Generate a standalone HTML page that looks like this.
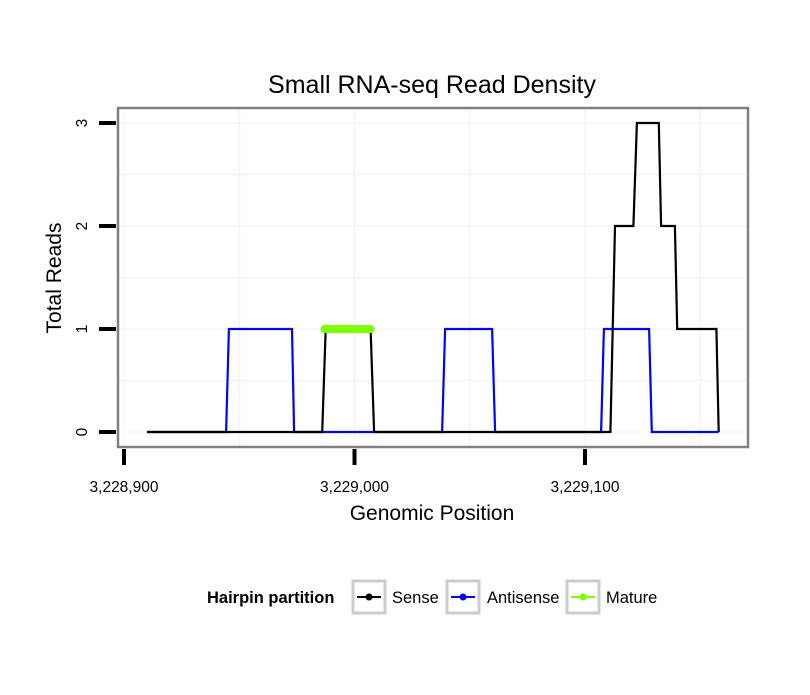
<!DOCTYPE html>
<html><head><meta charset="utf-8"><style>
body{margin:0;background:#fff;}
text{font-family:"Liberation Sans",sans-serif;}
</style></head><body>
<svg id="chart" width="810" height="690" viewBox="0 0 810 690" xmlns="http://www.w3.org/2000/svg">
<rect width="810" height="690" fill="#fff"/>
<text x="432" y="93" font-size="25" text-anchor="middle">Small RNA-seq Read Density</text>
<rect x="118" y="108" width="630" height="339" fill="#fff"/>
<g id="grid"></g>
<g id="series"></g>
<rect x="118" y="108" width="630" height="339" fill="none" stroke="#808080" stroke-width="2.5"/>
<g id="axes"></g>
<text x="432" y="520" font-size="21" text-anchor="middle">Genomic Position</text>
<text x="0" y="0" font-size="21" text-anchor="middle" transform="translate(61,278) rotate(-90)">Total Reads</text>
<g>
<text x="207" y="603" font-size="16.5" font-weight="bold">Hairpin partition</text>
<g>
<rect x="353" y="581" width="32" height="32" fill="#fff" stroke="#ccc" stroke-width="3"/>
<line x1="357" y1="597" x2="381" y2="597" stroke="#000" stroke-width="2"/><circle cx="369" cy="597" r="3.5" fill="#000"/>
<text x="392" y="603" font-size="16.5">Sense</text></g>
<g>
<rect x="447" y="581" width="32" height="32" fill="#fff" stroke="#ccc" stroke-width="3"/>
<line x1="451" y1="597" x2="475" y2="597" stroke="#00f" stroke-width="2"/><circle cx="463" cy="597" r="3.5" fill="#00f"/>
<text x="487" y="603" font-size="16.5">Antisense</text></g>
<g>
<rect x="567" y="581" width="32" height="32" fill="#fff" stroke="#ccc" stroke-width="3"/>
<line x1="571" y1="597" x2="595" y2="597" stroke="#7fff00" stroke-width="2"/><circle cx="583" cy="597" r="3.5" fill="#7fff00"/>
<text x="606" y="603" font-size="16.5">Mature</text></g>
</g>
</svg>
<script>
const xTicks = [3228900, 3229000, 3229100];
const xTickLabels = ["3,228,900", "3,229,000", "3,229,100"];
const yTicks = [0, 1, 2, 3];
const yTickLabels = ["0", "1", "2", "3"];
const senseX = [3228910, 3228986, 3228987.5, 3229007, 3229008.5, 3229111, 3229113, 3229121, 3229122.5, 3229132, 3229133, 3229139, 3229140, 3229157, 3229158];
const senseY = [0, 0, 1, 1, 0, 0, 2, 2, 3, 3, 2, 2, 1, 1, 0];
const antiX = [3228910, 3228944.3, 3228945.5, 3228972.9, 3228973.8, 3229038, 3229039.3, 3229059.7, 3229061, 3229107, 3229108.2, 3229127.8, 3229129, 3229158];
const antiY = [0, 0, 1, 1, 0, 0, 1, 1, 0, 0, 1, 1, 0, 0];
const matureX = [3228987, 3229007];
const matureY = [1, 1];

const NS = "http://www.w3.org/2000/svg";
function xs(v){ return 124 + (v - 3228900) * 2.305; }
function ys(v){ return 432 - v * 103; }
function mk(tag, attrs, parent){ const e = document.createElementNS(NS, tag); for (const k in attrs) e.setAttribute(k, attrs[k]); parent.appendChild(e); return e; }

const grid = document.getElementById('grid');
[3228950, 3229050, 3229150].forEach(v => { const l = mk('line', {x1: xs(v), x2: xs(v), y1: 109, y2: 446, stroke: '#f5f5f5', 'stroke-width': 2}, grid);

 });
[0.5, 1.5, 2.5].forEach(v => { const l = mk('line', {x1: 119, x2: 747, y1: ys(v), y2: ys(v), stroke: '#f5f5f5', 'stroke-width': 2}, grid);

 });
xTicks.forEach(v => { const l = mk('line', {x1: xs(v), x2: xs(v), y1: 109, y2: 446, stroke: '#f2f2f2', 'stroke-width': 1}, grid);

 });
yTicks.forEach(v => { const l = mk('line', {x1: 119, x2: 747, y1: ys(v), y2: ys(v), stroke: '#f2f2f2', 'stroke-width': 1}, grid);

 });

const series = document.getElementById('series');
function pts(X, Y){ return X.map((x, i) => xs(x).toFixed(1) + ',' + ys(Y[i]).toFixed(1)).join(' '); }
const a = mk('polyline', {points: pts(antiX, antiY), fill: 'none', stroke: '#00f', 'stroke-width': 2.2}, series);


const s = mk('polyline', {points: pts(senseX, senseY), fill: 'none', stroke: '#000', 'stroke-width': 2.2}, series);


const m = mk('polyline', {points: pts(matureX, matureY), fill: 'none', stroke: '#7fff00', 'stroke-width': 8, 'stroke-linecap': 'round'}, series);



const axes = document.getElementById('axes');
xTicks.forEach((v, i) => {
  const t = mk('line', {x1: xs(v), x2: xs(v), y1: 449, y2: 465, stroke: '#000', 'stroke-width': 4}, axes);
  
  
  const tx = mk('text', {x: xs(v), y: 492, 'font-size': 15.5, 'text-anchor': 'middle'}, axes);
  tx.textContent = xTickLabels[i];
  
  
});
yTicks.forEach((v, i) => {
  const t = mk('line', {x1: 99, x2: 116, y1: ys(v), y2: ys(v), stroke: '#000', 'stroke-width': 4}, axes);
  
  
  const tx = mk('text', {x: 0, y: 0, 'font-size': 15.5, 'text-anchor': 'middle', transform: 'translate(87,' + ys(v) + ') rotate(-90)'}, axes);
  tx.textContent = yTickLabels[i];
  
  
});
</script>
</body></html>
